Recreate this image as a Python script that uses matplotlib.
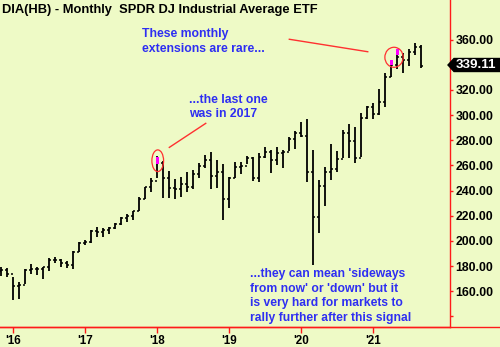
import matplotlib
matplotlib.use("Agg")
import matplotlib.pyplot as plt
from matplotlib.patches import Ellipse, Polygon
from matplotlib.lines import Line2D

# ---- data (monthly bars, Nov 2015 .. Sep 2021) ----
months = ["2015-11", "2015-12",
          "2016-01", "2016-02", "2016-03", "2016-04", "2016-05", "2016-06",
          "2016-07", "2016-08", "2016-09", "2016-10", "2016-11", "2016-12",
          "2017-01", "2017-02", "2017-03", "2017-04", "2017-05", "2017-06",
          "2017-07", "2017-08", "2017-09", "2017-10", "2017-11", "2017-12",
          "2018-01", "2018-02", "2018-03", "2018-04", "2018-05", "2018-06",
          "2018-07", "2018-08", "2018-09", "2018-10", "2018-11", "2018-12",
          "2019-01", "2019-02", "2019-03", "2019-04", "2019-05", "2019-06",
          "2019-07", "2019-08", "2019-09", "2019-10", "2019-11", "2019-12",
          "2020-01", "2020-02", "2020-03", "2020-04", "2020-05", "2020-06",
          "2020-07", "2020-08", "2020-09", "2020-10", "2020-11", "2020-12",
          "2021-01", "2021-02", "2021-03", "2021-04", "2021-05", "2021-06",
          "2021-07", "2021-08", "2021-09"]
highs = [179.0, 178.4,
         171.5, 167.6, 177.4, 181.6, 179.0, 179.5, 186.1, 186.9, 185.6, 184.2, 192.0, 199.3,
         200.7, 208.6, 211.3, 210.0, 210.8, 214.5, 218.7, 221.3, 224.0, 235.1, 243.0, 249.7,
         267.4, 263.7, 255.5, 248.9, 250.7, 254.5, 256.3, 261.6, 268.2, 270.4, 264.3, 260.8,
         251.0, 262.4, 262.4, 267.4, 266.9, 270.0, 274.3, 272.2, 274.3, 272.2, 282.3, 287.5,
         294.2, 296.6, 272.2, 248.4, 258.9, 277.0, 271.6, 288.1, 292.9, 290.7, 301.4, 307.2,
         309.8, 320.4, 333.6, 342.4, 352.5, 349.0, 352.2, 357.5, 355.6]
lows = [172.1, 171.0,
        153.0, 154.0, 165.5, 173.9, 173.1, 169.7, 176.3, 182.2, 179.5, 178.4, 177.4, 190.9,
        196.7, 198.1, 203.3, 203.3, 205.5, 209.2, 212.6, 215.2, 216.6, 224.0, 233.3, 239.1,
        249.7, 233.8, 234.3, 233.0, 235.1, 239.1, 241.0, 249.7, 257.7, 241.0, 241.8, 216.6,
        226.3, 249.7, 252.9, 260.8, 247.7, 247.0, 266.1, 254.2, 260.3, 257.7, 271.6, 272.8,
        282.8, 247.0, 180.8, 206.5, 227.7, 248.4, 255.0, 265.6, 265.6, 261.6, 266.9, 296.6,
        296.6, 300.0, 306.1, 330.4, 336.3, 333.1, 338.9, 347.7, 337.1]
closes = [177.0, 174.0,
          164.5, 164.8, 176.8, 178.0, 178.0, 179.0, 184.8, 184.9, 182.8, 181.0, 191.5, 198.5,
          199.5, 208.0, 207.0, 209.0, 210.0, 213.5, 218.0, 219.5, 223.5, 233.5, 242.5, 247.5,
          262.0, 250.0, 241.8, 241.5, 245.0, 243.0, 253.5, 259.5, 264.5, 251.8, 254.5, 233.3,
          249.7, 259.0, 259.5, 266.0, 250.0, 266.9, 270.5, 264.5, 269.5, 271.0, 281.0, 285.5,
          283.0, 255.0, 219.2, 243.6, 255.0, 257.0, 265.0, 285.5, 279.0, 265.5, 297.5, 306.5,
          300.5, 310.6, 330.4, 339.5, 346.3, 344.0, 350.0, 354.0, 339.11]
opens = [176.0] + closes[:-1]

# highlighted (magenta) signal segments: month, low, high
signal_months = ["2018-01", "2021-04", "2021-05"]
signal_lows = [261.1, 339.7, 347.7]
signal_highs = [266.9, 343.7, 352.2]

year_ticks = ["2016-01", "2017-01", "2018-01", "2019-01", "2020-01", "2021-01"]
year_labels = ["'16", "'17", "'18", "'19", "'20", "'21"]
price_ticks = [140, 160, 180, 200, 220, 240, 260, 280, 300, 320, 340, 360]
last_price = 339.11

title = "DIA(HB) - Monthly  SPDR DJ Industrial Average ETF"

def midx(s):
    y, m = s.split("-")
    return (int(y) - 2016) * 12 + int(m) - 1

xs = [midx(m) for m in months]

BG = "#EEFAC6"
RED = "#FF1A1A"
BLUE = "#2E2EF2"
W, H = 500, 347

fig = plt.figure(figsize=(5.0, 3.47), dpi=100, facecolor=BG)
ax = fig.add_axes([0, 20 / H, 450 / W, 327 / H])
ax.set_facecolor(BG)
ax.set_xlim(-2.22, 72.78)
ax.set_ylim(131.6, 391.4)

# OHLC bars
tk = 0.33
ax.vlines(xs, lows, highs, color="black", lw=1.3, zorder=3)
ax.hlines(opens, [x - tk for x in xs], xs, color="black", lw=1.1, zorder=3)
ax.hlines(closes, xs, [x + tk for x in xs], color="black", lw=1.1, zorder=3)

# magenta signal boxes
sx = [midx(m) for m in signal_months]
ax.bar(sx, [h - l for h, l in zip(signal_highs, signal_lows)], bottom=signal_lows,
       width=0.55, color="#FF00FF", zorder=4, linewidth=0)

# red circles
ax.add_patch(Ellipse((24.07, 263.7), 1.95, 17.2, fill=False, ec="#FF3030", lw=0.9, zorder=5))
ax.add_patch(Ellipse((63.45, 345.9), 3.05, 15.9, fill=False, ec="#FF3030", lw=0.9, zorder=5))

# red pointer lines
ax.plot([46.0, 59.07], [360.2, 350.3], color="#FF3030", lw=1.0, zorder=5)
ax.plot([26.0, 32.07], [274.3, 293.4], color="#FF3030", lw=1.0, zorder=5)

# axes styling
for s in ["top", "left"]:
    ax.spines[s].set_visible(False)
ax.spines["right"].set_color(RED)
ax.spines["bottom"].set_color(RED)
ax.spines["right"].set_linewidth(1.0)
ax.spines["bottom"].set_linewidth(1.0)

ax.yaxis.tick_right()
ax.set_yticks(price_ticks)
ax.set_yticklabels(["" if p in (140, 340) else f"{p:.2f}" for p in price_ticks],
                   fontfamily="Liberation Sans", fontweight="bold", fontsize=8.8)
ax.tick_params(axis="y", direction="out", length=2.5, width=1.0, color=RED, pad=1.5,
               labelcolor="black")

ax.set_xticks([midx(t) for t in year_ticks])
ax.set_xticklabels(year_labels, fontfamily="Liberation Sans", fontweight="bold", fontsize=8.4)
ax.tick_params(axis="x", direction="out", length=4.5, width=1.0, color=RED, pad=1.0,
               labelcolor="black")

# bottom line extending full width
fig.add_artist(Line2D([0, 1], [(H - 326.8) / H] * 2, color=RED, lw=1.0))

def ftext(x, y, s, **kw):
    fig.text(x / W, 1 - y / H, s, va="baseline", ha="left",
             fontfamily="Liberation Sans", fontweight="bold", **kw)

ftext(1.5, 12.7, title, fontsize=9.3, color="black")

ftext(142, 36.7, "These monthly", fontsize=8.8, color=BLUE)
ftext(142, 51.7, "extensions are rare...", fontsize=8.8, color=BLUE)
ftext(189.3, 102.7, "...the last one", fontsize=8.8, color=BLUE)
ftext(189.3, 117.3, "was in 2017", fontsize=8.8, color=BLUE)
for i, line in enumerate(["...they can mean 'sideways",
                          "from now' or 'down' but it",
                          "is very hard for markets to",
                          "rally further after this signal"]):
    ftext(250, 276.7 + i * 14.8, line, fontsize=8.7, color=BLUE)

# last price marker
py = 65.0
poly = Polygon([(448 / W, 1 - py / H), (454 / W, 1 - 58.5 / H), (500 / W, 1 - 58.5 / H),
                (500 / W, 1 - 71.5 / H), (454 / W, 1 - 71.5 / H)],
               closed=True, transform=fig.transFigure, fc="black", ec="black", zorder=10)
fig.add_artist(poly)
fig.text(476 / W, 1 - py / H, f"{last_price:.2f}", ha="center", va="center", color="white",
         fontfamily="Liberation Sans", fontweight="bold", fontsize=9.6, zorder=11)

fig.savefig("out.png", dpi=100, facecolor=BG)
